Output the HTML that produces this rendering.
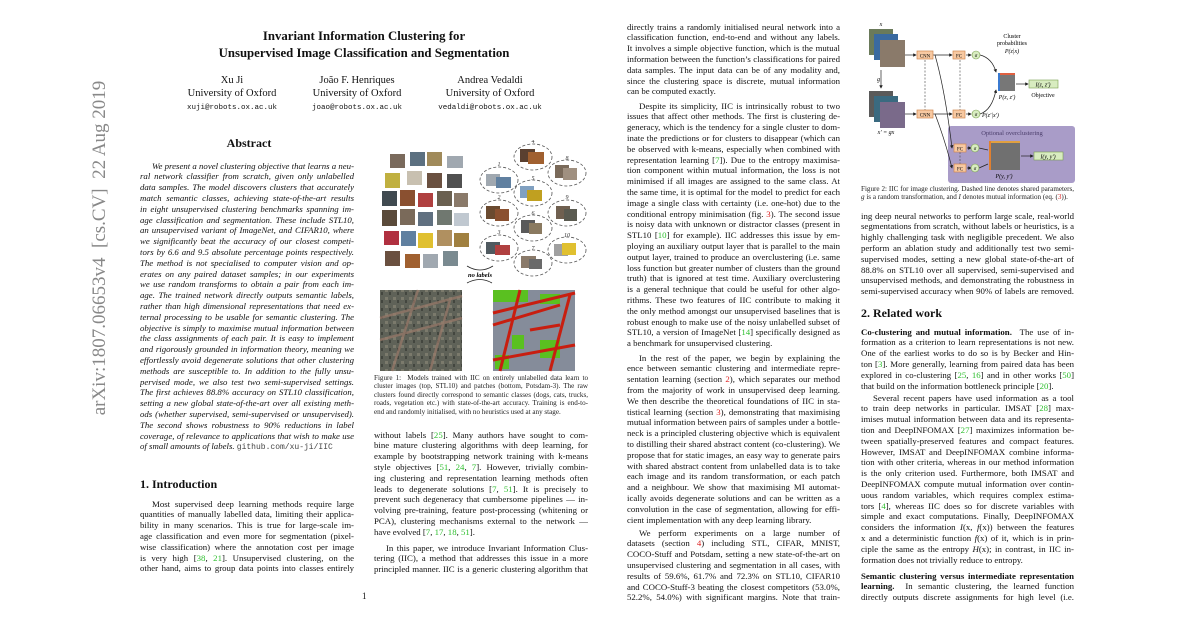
<!DOCTYPE html>
<html><head><meta charset="utf-8">
<style>
*{margin:0;padding:0;box-sizing:border-box}
body{width:1200px;height:628px;background:#fff;position:relative;overflow:hidden;font-family:"Liberation Serif",serif;color:#111}
.a{position:absolute}
.p{position:absolute;font-size:8.8px;line-height:10.8px}
.p div{height:10.8px;overflow:hidden;text-align:justify;text-align-last:justify;white-space:normal}
.p div.e{text-align-last:left}
.p div.i{text-indent:12px}
.it{font-style:italic}
.g{color:#2fbf2f}.r{color:#d22}
.cap{position:absolute;font-size:7.1px;line-height:8.6px;color:#222}
.cap div{height:8.6px;overflow:hidden;text-align:justify;text-align-last:justify}
.cap div.e{text-align-last:left}
.c{position:absolute;text-align:center;transform:translateX(-50%);white-space:nowrap}
.mono{font-family:"Liberation Mono",monospace}
h2{position:absolute;font-size:12px;font-weight:bold}
</style></head><body>

<div class="a" style="left:100px;top:248px;width:400px;height:22px;margin-left:-200px;margin-top:-11px;transform:rotate(-90deg);font-size:19px;color:#888;text-align:center;line-height:22px;white-space:nowrap">arXiv:1807.06653v4&nbsp; [cs.CV]&nbsp; 22 Aug 2019</div>

<div class="c" style="left:364px;top:28px;font-size:12.8px;font-weight:bold;line-height:17px">Invariant Information Clustering for<br>Unsupervised Image Classification and Segmentation</div>

<div class="c" style="left:232px;top:74px;font-size:10.5px;line-height:13px">Xu Ji<br>University of Oxford<br><span class="mono" style="font-size:7.5px">xuji@robots.ox.ac.uk</span></div>
<div class="c" style="left:357px;top:74px;font-size:10.5px;line-height:13px">João F. Henriques<br>University of Oxford<br><span class="mono" style="font-size:7.5px">joao@robots.ox.ac.uk</span></div>
<div class="c" style="left:490px;top:74px;font-size:10.5px;line-height:13px">Andrea Vedaldi<br>University of Oxford<br><span class="mono" style="font-size:7.5px">vedaldi@robots.ox.ac.uk</span></div>

<div class="c" style="left:249px;top:136px;font-size:12px;font-weight:bold">Abstract</div>

<div class="p it" style="left:140px;top:160.6px;width:214px">
<div class="i">We present a novel clustering objective that learns a neu-</div>
<div>ral network classifier from scratch, given only unlabelled</div>
<div>data samples. The model discovers clusters that accurately</div>
<div>match semantic classes, achieving state-of-the-art results</div>
<div>in eight unsupervised clustering benchmarks spanning im-</div>
<div>age classification and segmentation. These include STL10,</div>
<div>an unsupervised variant of ImageNet, and CIFAR10, where</div>
<div>we significantly beat the accuracy of our closest competi-</div>
<div>tors by 6.6 and 9.5 absolute percentage points respectively.</div>
<div>The method is not specialised to computer vision and op-</div>
<div>erates on any paired dataset samples; in our experiments</div>
<div>we use random transforms to obtain a pair from each im-</div>
<div>age. The trained network directly outputs semantic labels,</div>
<div>rather than high dimensional representations that need ex-</div>
<div>ternal processing to be usable for semantic clustering. The</div>
<div>objective is simply to maximise mutual information between</div>
<div>the class assignments of each pair. It is easy to implement</div>
<div>and rigorously grounded in information theory, meaning we</div>
<div>effortlessly avoid degenerate solutions that other clustering</div>
<div>methods are susceptible to. In addition to the fully unsu-</div>
<div>pervised mode, we also test two semi-supervised settings.</div>
<div>The first achieves 88.8% accuracy on STL10 classification,</div>
<div>setting a new global state-of-the-art over all existing meth-</div>
<div>ods (whether supervised, semi-supervised or unsupervised).</div>
<div>The second shows robustness to 90% reductions in label</div>
<div>coverage, of relevance to applications that wish to make use</div>
<div class="e">of small amounts of labels. <span class="mono" style="font-style:normal;font-size:8px;color:#444">github.com/xu-ji/IIC</span></div>
</div>

<h2 style="left:140px;top:477px">1. Introduction</h2>
<div class="p" style="left:140px;top:498.6px;width:214px">
<div class="i">Most supervised deep learning methods require large</div>
<div>quantities of manually labelled data, limiting their applica-</div>
<div>bility in many scenarios. This is true for large-scale im-</div>
<div>age classification and even more for segmentation (pixel-</div>
<div>wise classification) where the annotation cost per image</div>
<div>is very high [<span class="g">38</span>, <span class="g">21</span>]. Unsupervised clustering, on the</div>
<div>other hand, aims to group data points into classes entirely</div>
</div>
<div class="a" style="left:362px;top:591px;font-size:9px">1</div>

<!-- Figure 1 -->
<svg class="a" style="left:374px;top:140px" width="216" height="235" viewBox="374 140 216 235">
<defs>
<pattern id="aer" width="8" height="8" patternUnits="userSpaceOnUse"><rect width="8" height="8" fill="#5f6258"/><rect x="1" y="1" width="3" height="3" fill="#7b7a6c"/><rect x="5" y="4" width="2" height="3" fill="#43463f"/></pattern>
</defs>
<g stroke="none">
<rect x="390" y="154" width="15" height="14" fill="#7a6a5c"/><rect x="410" y="152" width="15" height="14" fill="#5c7080"/><rect x="427" y="152" width="15" height="14" fill="#a08a5a"/><rect x="447" y="156" width="16" height="12" fill="#a0a8b0"/>
<rect x="385" y="173" width="15" height="15" fill="#c0b040"/><rect x="407" y="171" width="15" height="14" fill="#c8c0b0"/><rect x="427" y="173" width="15" height="15" fill="#6a5040"/><rect x="447" y="174" width="15" height="14" fill="#505050"/>
<rect x="382" y="191" width="15" height="15" fill="#404a50"/><rect x="400" y="190" width="15" height="16" fill="#8a5030"/><rect x="418" y="193" width="15" height="14" fill="#b04040"/><rect x="437" y="191" width="15" height="15" fill="#6a6050"/><rect x="454" y="193" width="14" height="14" fill="#8a7a6a"/>
<rect x="382" y="210" width="15" height="16" fill="#5a4a3a"/><rect x="400" y="209" width="15" height="16" fill="#7a6a5a"/><rect x="418" y="212" width="15" height="14" fill="#607080"/><rect x="437" y="210" width="15" height="15" fill="#707870"/><rect x="454" y="213" width="15" height="13" fill="#c0c8d0"/>
<rect x="384" y="231" width="15" height="14" fill="#b03040"/><rect x="401" y="231" width="15" height="15" fill="#6080a0"/><rect x="418" y="233" width="15" height="15" fill="#e0c030"/><rect x="437" y="230" width="15" height="16" fill="#b09060"/><rect x="454" y="233" width="15" height="14" fill="#a08040"/>
<rect x="385" y="251" width="15" height="15" fill="#6a5040"/><rect x="405" y="254" width="15" height="14" fill="#a06030"/><rect x="423" y="254" width="15" height="14" fill="#a0a8b0"/><rect x="443" y="251" width="15" height="15" fill="#7a8a90"/>
</g>
<g fill="none" stroke="#555" stroke-width="0.8" stroke-dasharray="3,2">
<ellipse cx="533" cy="157" rx="19" ry="13"/><ellipse cx="567" cy="173" rx="19" ry="13"/><ellipse cx="499" cy="180" rx="19" ry="13"/><ellipse cx="533" cy="193" rx="19" ry="13"/><ellipse cx="567" cy="213" rx="19" ry="13"/><ellipse cx="499" cy="213" rx="19" ry="13"/><ellipse cx="533" cy="228" rx="19" ry="13"/><ellipse cx="499" cy="248" rx="19" ry="13"/><ellipse cx="567" cy="250" rx="19" ry="13"/><ellipse cx="533" cy="263" rx="19" ry="13"/>
</g>
<g>
<rect x="520" y="149" width="15" height="13" fill="#5a4030"/><rect x="528" y="152" width="16" height="12" fill="#a06030"/>
<rect x="555" y="165" width="14" height="13" fill="#7a6a5a"/><rect x="563" y="168" width="14" height="12" fill="#a09080"/>
<rect x="486" y="174" width="14" height="12" fill="#a0a8b0"/><rect x="496" y="177" width="15" height="11" fill="#6080a0"/>
<rect x="520" y="186" width="14" height="12" fill="#80a0c0"/><rect x="527" y="190" width="15" height="11" fill="#c0a020"/>
<rect x="556" y="206" width="14" height="13" fill="#706050"/><rect x="564" y="209" width="13" height="12" fill="#5a5a50"/>
<rect x="486" y="206" width="14" height="13" fill="#6a4a30"/><rect x="495" y="209" width="14" height="12" fill="#8a5030"/>
<rect x="521" y="220" width="14" height="13" fill="#5a5a5a"/><rect x="529" y="223" width="13" height="11" fill="#8a7a60"/>
<rect x="486" y="242" width="14" height="12" fill="#505a60"/><rect x="495" y="245" width="15" height="10" fill="#b04040"/>
<rect x="554" y="244" width="14" height="12" fill="#a0a0a0"/><rect x="562" y="243" width="14" height="12" fill="#e0c030"/>
<rect x="521" y="256" width="15" height="12" fill="#8a7a6a"/><rect x="529" y="259" width="13" height="10" fill="#6a6a6a"/>
</g>
<g font-size="6" font-style="italic" fill="#333" text-anchor="middle" font-family="Liberation Serif">
<text x="533" y="143">4</text><text x="567" y="160">8</text><text x="499" y="166">1</text><text x="533" y="180">5</text><text x="567" y="199">9</text><text x="499" y="199">2</text><text x="533" y="215">6</text><text x="499" y="234">3</text><text x="567" y="237">10</text><text x="533" y="250">7</text>
</g>
<path d="M467 266 Q480 274 493 266" fill="none" stroke="#222" stroke-width="0.8"/>
<path d="M467 283 Q480 276 492 283" fill="none" stroke="#222" stroke-width="0.8"/>
<text x="480" y="277" font-size="6.5" font-style="italic" font-weight="bold" text-anchor="middle" font-family="Liberation Serif">no labels</text>
<rect x="380" y="290" width="82" height="81" fill="url(#aer)"/>
<g stroke="#9a7a6a" stroke-width="2.5" opacity="0.7"><line x1="380" y1="318" x2="462" y2="296"/><line x1="392" y1="371" x2="418" y2="290"/><line x1="380" y1="340" x2="462" y2="318"/><line x1="430" y1="371" x2="450" y2="300"/></g>
<rect x="493" y="290" width="82" height="81" fill="#858c9a"/>
<g fill="#5ac020"><rect x="493" y="290" width="35" height="12"/><rect x="540" y="294" width="20" height="10"/><rect x="512" y="335" width="12" height="14"/><rect x="540" y="340" width="20" height="18"/><rect x="495" y="355" width="14" height="14"/></g>
<g stroke="#c81e10" stroke-width="3"><line x1="493" y1="313" x2="575" y2="293"/><line x1="493" y1="325" x2="560" y2="305"/><line x1="500" y1="371" x2="520" y2="290"/><line x1="550" y1="371" x2="570" y2="295"/><line x1="493" y1="360" x2="575" y2="345"/><line x1="530" y1="330" x2="560" y2="325"/></g>
</svg>
<div class="cap" style="left:374px;top:373.7px;width:214px">
<div>Figure 1:&nbsp; Models trained with IIC on entirely unlabelled data learn to</div>
<div>cluster images (top, STL10) and patches (bottom, Potsdam-3). The raw</div>
<div>clusters found directly correspond to semantic classes (dogs, cats, trucks,</div>
<div>roads, vegetation etc.) with state-of-the-art accuracy. Training is end-to-</div>
<div class="e">end and randomly initialised, with no heuristics used at any stage.</div>
</div>

<div class="p" style="left:374px;top:429.6px;width:214px">
<div>without labels [<span class="g">25</span>]. Many authors have sought to com-</div>
<div>bine mature clustering algorithms with deep learning, for</div>
<div>example by bootstrapping network training with k-means</div>
<div>style objectives [<span class="g">51</span>, <span class="g">24</span>, <span class="g">7</span>]. However, trivially combin-</div>
<div>ing clustering and representation learning methods often</div>
<div>leads to degenerate solutions [<span class="g">7</span>, <span class="g">51</span>]. It is precisely to</div>
<div>prevent such degeneracy that cumbersome pipelines — in-</div>
<div>volving pre-training, feature post-processing (whitening or</div>
<div>PCA), clustering mechanisms external to the network —</div>
<div class="e">have evolved [<span class="g">7</span>, <span class="g">17</span>, <span class="g">18</span>, <span class="g">51</span>].</div>
</div>
<div class="p" style="left:374px;top:542.6px;width:214px">
<div class="i">In this paper, we introduce Invariant Information Clus-</div>
<div>tering (IIC), a method that addresses this issue in a more</div>
<div>principled manner. IIC is a generic clustering algorithm that</div>
</div>

<!-- Column 3 -->
<div class="p" style="left:627px;top:21.6px;width:213px">
<div>directly trains a randomly initialised neural network into a</div>
<div>classification function, end-to-end and without any labels.</div>
<div>It involves a simple objective function, which is the mutual</div>
<div>information between the function’s classifications for paired</div>
<div>data samples. The input data can be of any modality and,</div>
<div>since the clustering space is discrete, mutual information</div>
<div class="e">can be computed exactly.</div>
</div>
<div class="p" style="left:627px;top:100.6px;width:213px">
<div class="i">Despite its simplicity, IIC is intrinsically robust to two</div>
<div>issues that affect other methods. The first is clustering de-</div>
<div>generacy, which is the tendency for a single cluster to dom-</div>
<div>inate the predictions or for clusters to disappear (which can</div>
<div>be observed with k-means, especially when combined with</div>
<div>representation learning [<span class="g">7</span>]). Due to the entropy maximisa-</div>
<div>tion component within mutual information, the loss is not</div>
<div>minimised if all images are assigned to the same class. At</div>
<div>the same time, it is optimal for the model to predict for each</div>
<div>image a single class with certainty (i.e. one-hot) due to the</div>
<div>conditional entropy minimisation (fig. <span class="r">3</span>). The second issue</div>
<div>is noisy data with unknown or distractor classes (present in</div>
<div>STL10 [<span class="g">10</span>] for example). IIC addresses this issue by em-</div>
<div>ploying an auxiliary output layer that is parallel to the main</div>
<div>output layer, trained to produce an overclustering (i.e. same</div>
<div>loss function but greater number of clusters than the ground</div>
<div>truth) that is ignored at test time. Auxiliary overclustering</div>
<div>is a general technique that could be useful for other algo-</div>
<div>rithms. These two features of IIC contribute to making it</div>
<div>the only method amongst our unsupervised baselines that is</div>
<div>robust enough to make use of the noisy unlabelled subset of</div>
<div>STL10, a version of ImageNet [<span class="g">14</span>] specifically designed as</div>
<div class="e">a benchmark for unsupervised clustering.</div>
</div>
<div class="p" style="left:627px;top:352.6px;width:213px">
<div class="i">In the rest of the paper, we begin by explaining the differ-</div>
<div>ence between semantic clustering and intermediate repre-</div>
<div>sentation learning (section <span class="r">2</span>), which separates our method</div>
<div>from the majority of work in unsupervised deep learning.</div>
<div>We then describe the theoretical foundations of IIC in sta-</div>
<div>tistical learning (section <span class="r">3</span>), demonstrating that maximising</div>
<div>mutual information between pairs of samples under a bottle-</div>
<div>neck is a principled clustering objective which is equivalent</div>
<div>to distilling their shared abstract content (co-clustering). We</div>
<div>propose that for static images, an easy way to generate pairs</div>
<div>with shared abstract content from unlabelled data is to take</div>
<div>each image and its random transformation, or each patch</div>
<div>and a neighbour. We show that maximising MI automat-</div>
<div>ically avoids degenerate solutions and can be written as a</div>
<div>convolution in the case of segmentation, allowing for effi-</div>
<div class="e">cient implementation with any deep learning library.</div>
</div>
<div class="p" style="left:627px;top:527.6px;width:213px">
<div class="i">We perform experiments on a large number of</div>
<div>datasets (section <span class="r">4</span>) including STL, CIFAR, MNIST,</div>
<div>COCO-Stuff and Potsdam, setting a new state-of-the-art on</div>
<div>unsupervised clustering and segmentation in all cases, with</div>
<div>results of 59.6%, 61.7% and 72.3% on STL10, CIFAR10</div>
<div>and COCO-Stuff-3 beating the closest competitors (53.0%,</div>
<div>52.2%, 54.0%) with significant margins. Note that train-</div>
</div>

<!-- Figure 2 -->
<svg class="a" style="left:850px;top:20px" width="230" height="166" viewBox="850 20 230 166" font-family="Liberation Serif">
<defs><marker id="ar" markerWidth="5" markerHeight="5" refX="4" refY="2.5" orient="auto"><path d="M0,0 L5,2.5 L0,5z" fill="#222"/></marker></defs>
<rect x="948" y="126" width="127" height="57" rx="3" fill="#a99cc8"/>
<text x="1012" y="135" font-size="6.5" fill="#4a3d6a" text-anchor="middle">Optional overclustering</text>
<rect x="869" y="29" width="24" height="26" fill="#6a7a5a"/><rect x="874" y="34" width="24" height="26" fill="#3a6aa0"/><rect x="880" y="40" width="25" height="27" fill="#8a7a6a"/>
<text x="881" y="26" font-size="6" font-style="italic" text-anchor="middle">x</text>
<line x1="881" y1="70" x2="881" y2="88" stroke="#222" stroke-width="0.7" marker-end="url(#ar)"/>
<text x="877" y="81" font-size="6" font-style="italic">g</text>
<rect x="869" y="91" width="24" height="26" fill="#5a5a5a"/><rect x="874" y="96" width="24" height="26" fill="#3a6a80"/><rect x="880" y="102" width="25" height="26" fill="#7a6a8a"/>
<text x="886" y="134" font-size="6" font-style="italic" text-anchor="middle">x′ = gx</text>
<g stroke="#222" stroke-width="0.7" fill="none">
<line x1="905" y1="55" x2="916" y2="55" marker-end="url(#ar)"/><line x1="905" y1="114" x2="916" y2="114" marker-end="url(#ar)"/>
<line x1="933" y1="55" x2="952" y2="55" marker-end="url(#ar)"/><line x1="933" y1="114" x2="952" y2="114" marker-end="url(#ar)"/>
<line x1="966" y1="55" x2="971" y2="55" marker-end="url(#ar)"/><line x1="966" y1="114" x2="971" y2="114" marker-end="url(#ar)"/>
<path d="M980 55 Q992 58 996 72" marker-end="url(#ar)"/><path d="M980 114 Q992 110 996 90" marker-end="url(#ar)"/>
<line x1="1016" y1="84" x2="1028" y2="84" marker-end="url(#ar)"/>
<path d="M935 55 Q945 90 952 148" marker-end="url(#ar)"/><path d="M935 114 Q945 140 952 168" marker-end="url(#ar)"/>
<line x1="967" y1="148" x2="971" y2="148" marker-end="url(#ar)"/><line x1="967" y1="168" x2="971" y2="168" marker-end="url(#ar)"/>
<line x1="979" y1="148" x2="988" y2="150"/><line x1="979" y1="168" x2="988" y2="164"/>
<line x1="1021" y1="156" x2="1033" y2="156" marker-end="url(#ar)"/>
</g>
<g stroke="#444" stroke-width="0.6" stroke-dasharray="2,1.5"><line x1="925" y1="60" x2="925" y2="110"/><line x1="960" y1="60" x2="960" y2="110"/><line x1="960" y1="152" x2="960" y2="164"/></g>
<g fill="#f7c9a2" stroke="#d08850" stroke-width="0.7">
<rect x="917" y="51" width="16" height="8"/><rect x="917" y="110" width="16" height="8"/>
<rect x="953" y="51" width="12" height="8"/><rect x="953" y="110" width="12" height="8"/>
<rect x="954" y="144" width="12" height="8"/><rect x="954" y="164" width="12" height="8"/>
</g>
<g font-size="5" text-anchor="middle"><text x="925" y="57.5">CNN</text><text x="925" y="116.5">CNN</text><text x="959" y="57.5">FC</text><text x="959" y="116.5">FC</text><text x="960" y="150.5">FC</text><text x="960" y="170.5">FC</text></g>
<g fill="#d8ecc0" stroke="#7aa050" stroke-width="0.6"><circle cx="976" cy="55" r="4"/><circle cx="976" cy="114" r="4"/><circle cx="975" cy="148" r="4"/><circle cx="975" cy="168" r="4"/></g>
<g font-size="5" font-style="italic" text-anchor="middle"><text x="976" y="57">σ</text><text x="976" y="116">σ</text><text x="975" y="150">σ</text><text x="975" y="170">σ</text></g>
<text x="1012" y="38" font-size="6" text-anchor="middle">Cluster</text><text x="1012" y="45" font-size="6" text-anchor="middle">probabilities</text><text x="1012" y="53" font-size="6" font-style="italic" text-anchor="middle">P(z|x)</text>
<rect x="998" y="73" width="17" height="18" fill="#777"/><rect x="998" y="73" width="17" height="2" fill="#e06040"/><rect x="998" y="73" width="2" height="18" fill="#3a7ad0"/>
<text x="1007" y="99" font-size="6" font-style="italic" text-anchor="middle">P(z, z′)</text>
<text x="982" y="117" font-size="6" font-style="italic">P(z′|x′)</text>
<rect x="1029" y="80" width="29" height="8" fill="#d8ecc0" stroke="#7aa050" stroke-width="0.6"/>
<text x="1043" y="86.5" font-size="6" font-style="italic" text-anchor="middle">I(z, z′)</text>
<text x="1043" y="97" font-size="6" text-anchor="middle">Objective</text>
<rect x="989" y="141" width="31" height="29" fill="#707070"/><rect x="989" y="141" width="31" height="2" fill="#e0a040"/><rect x="989" y="141" width="2" height="29" fill="#e08030"/>
<text x="1004" y="178" font-size="6" font-style="italic" text-anchor="middle">P(y, y′)</text>
<rect x="1034" y="152" width="29" height="8" fill="#d8ecc0" stroke="#7aa050" stroke-width="0.6"/>
<text x="1048" y="158.5" font-size="6" font-style="italic" text-anchor="middle">I(y, y′)</text>
</svg>
<div class="cap" style="left:861px;top:184.7px;width:213px">
<div>Figure 2: IIC for image clustering. Dashed line denotes shared parameters,</div>
<div class="e"><i>g</i> is a random transformation, and <i>I</i> denotes mutual information (eq. (<span class="r">3</span>)).</div>
</div>

<div class="p" style="left:861px;top:210.6px;width:213px">
<div>ing deep neural networks to perform large scale, real-world</div>
<div>segmentations from scratch, without labels or heuristics, is a</div>
<div>highly challenging task with negligible precedent. We also</div>
<div>perform an ablation study and additionally test two semi-</div>
<div>supervised modes, setting a new global state-of-the-art of</div>
<div>88.8% on STL10 over all supervised, semi-supervised and</div>
<div>unsupervised methods, and demonstrating the robustness in</div>
<div>semi-supervised accuracy when 90% of labels are removed.</div>
</div>
<h2 style="left:861px;top:306px">2. Related work</h2>
<div class="p" style="left:861px;top:326.6px;width:213px">
<div><b>Co-clustering and mutual information.</b>&nbsp; The use of in-</div>
<div>formation as a criterion to learn representations is not new.</div>
<div>One of the earliest works to do so is by Becker and Hin-</div>
<div>ton [<span class="g">3</span>]. More generally, learning from paired data has been</div>
<div>explored in co-clustering [<span class="g">25</span>, <span class="g">16</span>] and in other works [<span class="g">50</span>]</div>
<div class="e">that build on the information bottleneck principle [<span class="g">20</span>].</div>
</div>
<div class="p" style="left:861px;top:392.6px;width:213px">
<div class="i">Several recent papers have used information as a tool</div>
<div>to train deep networks in particular. IMSAT [<span class="g">28</span>] max-</div>
<div>imises mutual information between data and its representa-</div>
<div>tion and DeepINFOMAX [<span class="g">27</span>] maximizes information be-</div>
<div>tween spatially-preserved features and compact features.</div>
<div>However, IMSAT and DeepINFOMAX combine informa-</div>
<div>tion with other criteria, whereas in our method information</div>
<div>is the only criterion used. Furthermore, both IMSAT and</div>
<div>DeepINFOMAX compute mutual information over contin-</div>
<div>uous random variables, which requires complex estima-</div>
<div>tors [<span class="g">4</span>], whereas IIC does so for discrete variables with</div>
<div>simple and exact computations. Finally, DeepINFOMAX</div>
<div>considers the information <i>I</i>(x, <i>f</i>(x)) between the features</div>
<div>x and a deterministic function <i>f</i>(x) of it, which is in prin-</div>
<div>ciple the same as the entropy <i>H</i>(x); in contrast, in IIC in-</div>
<div class="e">formation does not trivially reduce to entropy.</div>
</div>
<div class="p" style="left:861px;top:570.6px;width:213px">
<div><b>Semantic clustering versus intermediate representation</b></div>
<div><b>learning.</b>&nbsp; In semantic clustering, the learned function</div>
<div>directly outputs discrete assignments for high level (i.e.</div>
</div>
</body></html>
